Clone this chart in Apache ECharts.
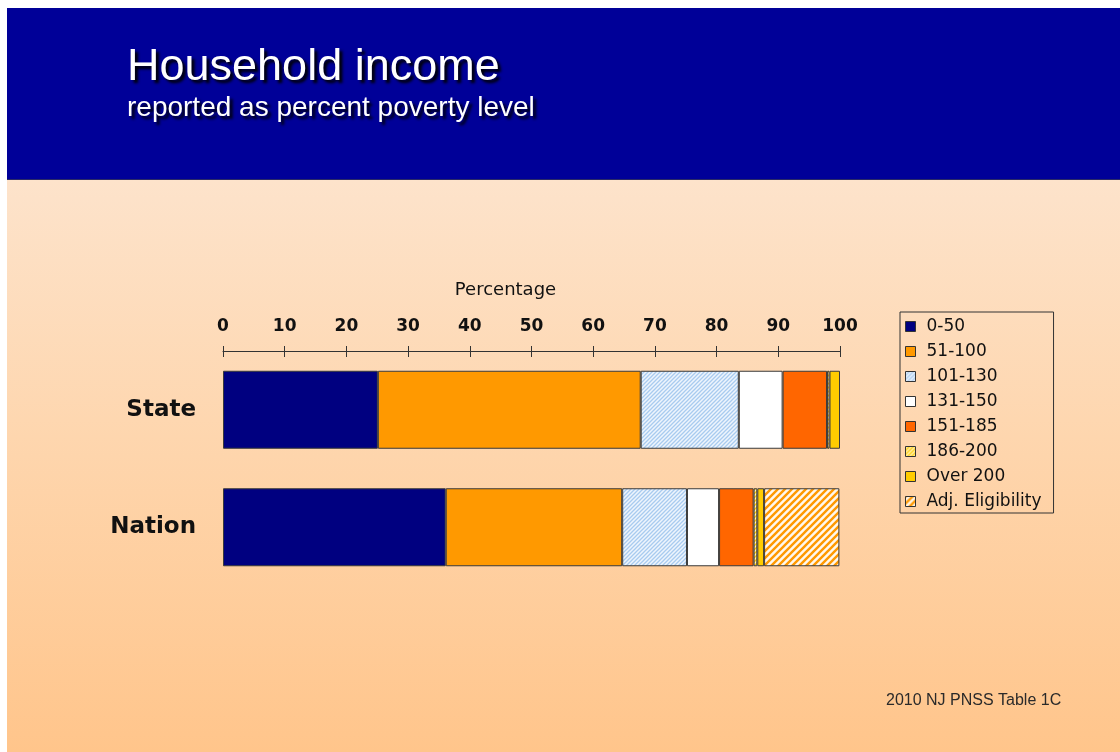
<!DOCTYPE html>
<html>
<head>
<meta charset="utf-8">
<title>Household income</title>
<script src="https://cdn.jsdelivr.net/npm/echarts@6/dist/echarts.min.js"></script>
<style>
  html, body { margin: 0; padding: 0; background: #ffffff; }
  #page { position: relative; width: 1120px; height: 752px; overflow: hidden; background: #ffffff; }
  #slide { position: absolute; left: 7px; top: 8px; width: 1113px; height: 744px;
           background: linear-gradient(to bottom, #fde7d4 0px, #fde3cb 172px, #fed6ae 430px, #ffc58b 744px); }
  #banner { position: absolute; left: 0; top: 0; width: 1113px; height: 171px; background: #000098;
            border-bottom: 1px solid #2a2a66; }
  #chart { position: absolute; left: 0; top: 0; width: 1120px; height: 752px; }
</style>
</head>
<body>
<div id="page">
  <div id="slide"><div id="banner"></div></div>
  <div id="chart"></div>
</div>
<script>
// Rows of the stacked bar chart
const categories = ['State', 'Nation'];
// Household income brackets, as percent of the poverty level
const brackets = ['0-50', '51-100', '101-130', '131-150', '151-185', '186-200', 'Over 200', 'Adj. Eligibility'];
// Share of households (%) in each bracket
const stateShares  = [25.1, 42.6, 15.9, 7.1, 7.2, 0.4, 1.7, 0];
const nationShares = [36.1, 28.6, 10.5, 5.2, 5.6, 0.6, 1.1, 12.2];
// Axis ticks
const axisMin = 0, axisMax = 100, axisStep = 10;

// Diagonal "/" stripe fill, drawn once into a small repeating tile
function stripes(bg, fg, size, lineW) {
  const c = document.createElement('canvas');
  c.width = c.height = size;
  const g = c.getContext('2d');
  g.fillStyle = bg;
  g.fillRect(0, 0, size, size);
  g.strokeStyle = fg;
  g.lineWidth = lineW;
  g.beginPath();
  g.moveTo(-size / 2, size / 2); g.lineTo(size / 2, -size / 2);
  g.moveTo(0, size); g.lineTo(size, 0);
  g.moveTo(size / 2, size * 1.5); g.lineTo(size * 1.5, size / 2);
  g.stroke();
  return { image: c, repeat: 'repeat' };
}

const fills = [
  '#000080',
  '#ff9900',
  stripes('#eef5fd', '#a8cbef', 4, 1.3),
  '#ffffff',
  '#ff6600',
  stripes('#fff5c8', '#ffcc00', 4, 1.4),
  '#ffcc00',
  stripes('#fff8ee', '#ff9900', 7, 2.4)
];

const series = brackets.map((name, i) => ({
  name: name,
  type: 'bar',
  stack: 'total',
  barWidth: 78,
  xAxisIndex: 0,
  yAxisIndex: 0,
  itemStyle: { color: fills[i], borderColor: '#3a3a3a', borderWidth: 1 },
  emphasis: { disabled: true },
  data: [stateShares[i], nationShares[i]].map(v => (v > 0 ? v : null))
}));

const sans = 'DejaVu Sans';
const gridBox = { left: 223, right: 280, top: 351, height: 235 };

const chart = echarts.init(document.getElementById('chart'), null, { renderer: 'canvas' });
chart.setOption({
  backgroundColor: 'transparent',
  animation: false,
  title: {
    text: 'Household income',
    subtext: 'reported as percent poverty level',
    left: 127,
    top: 45,
    itemGap: 4,
    padding: 0,
    textStyle: {
      fontFamily: 'Liberation Sans', fontSize: 45, fontWeight: 'normal', color: '#ffffff',
      textShadowColor: '#000000', textShadowBlur: 3, textShadowOffsetX: 3, textShadowOffsetY: 3
    },
    subtextStyle: {
      fontFamily: 'Liberation Sans', fontSize: 28, color: '#ffffff',
      textShadowColor: '#000000', textShadowBlur: 3, textShadowOffsetX: 3, textShadowOffsetY: 3
    }
  },
  legend: {
    orient: 'vertical',
    left: 900,
    top: 312,
    padding: [6, 12, 3, 5],
    borderColor: '#333333',
    borderWidth: 1,
    itemWidth: 10,
    itemHeight: 10,
    itemGap: 8,
    icon: 'rect',
    selectedMode: false,
    data: brackets,
    itemStyle: { borderColor: '#333333', borderWidth: 1 },
    textStyle: { fontFamily: sans, fontSize: 17, lineHeight: 16, color: '#111111', padding: [0, 0, 0, 6] }
  },
  grid: [
    Object.assign({}, gridBox, { containLabel: false }),
    Object.assign({}, gridBox, { containLabel: false })
  ],
  xAxis: [
    {
      type: 'value',
      gridIndex: 0,
      position: 'top',
      min: axisMin, max: axisMax, interval: axisStep,
      name: 'Percentage',
      nameLocation: 'middle',
      nameGap: 52,
      nameTextStyle: { fontFamily: sans, fontSize: 18, color: '#111111', padding: [0, 52, 0, 0] },
      axisLine: { show: true, lineStyle: { color: '#333333', width: 1 } },
      axisTick: { show: true, length: 5, lineStyle: { color: '#333333', width: 1 } },
      axisLabel: { margin: 16, fontFamily: sans, fontSize: 17, fontWeight: 'bold', color: '#111111' },
      splitLine: { show: false }
    },
    {
      // lower half of each tick mark, below the axis line
      type: 'value',
      gridIndex: 1,
      position: 'top',
      min: axisMin, max: axisMax, interval: axisStep,
      axisLine: { show: false },
      axisTick: { show: true, inside: true, length: 6, lineStyle: { color: '#333333', width: 1 } },
      axisLabel: { show: false },
      splitLine: { show: false }
    }
  ],
  yAxis: [
    {
      type: 'category',
      gridIndex: 0,
      data: categories,
      inverse: true,
      axisLine: { show: false },
      axisTick: { show: false },
      axisLabel: { margin: 27, fontFamily: sans, fontSize: 23, fontWeight: 'bold', color: '#111111' }
    },
    {
      type: 'category',
      gridIndex: 1,
      data: categories,
      inverse: true,
      show: false
    }
  ],
  graphic: [
    {
      type: 'text',
      left: 886,
      top: 693,
      style: { text: '2010 NJ PNSS Table 1C', font: '16px "Liberation Sans"', fill: '#2a2a2a' }
    }
  ],
  series: series
});
</script>
</body>
</html>
